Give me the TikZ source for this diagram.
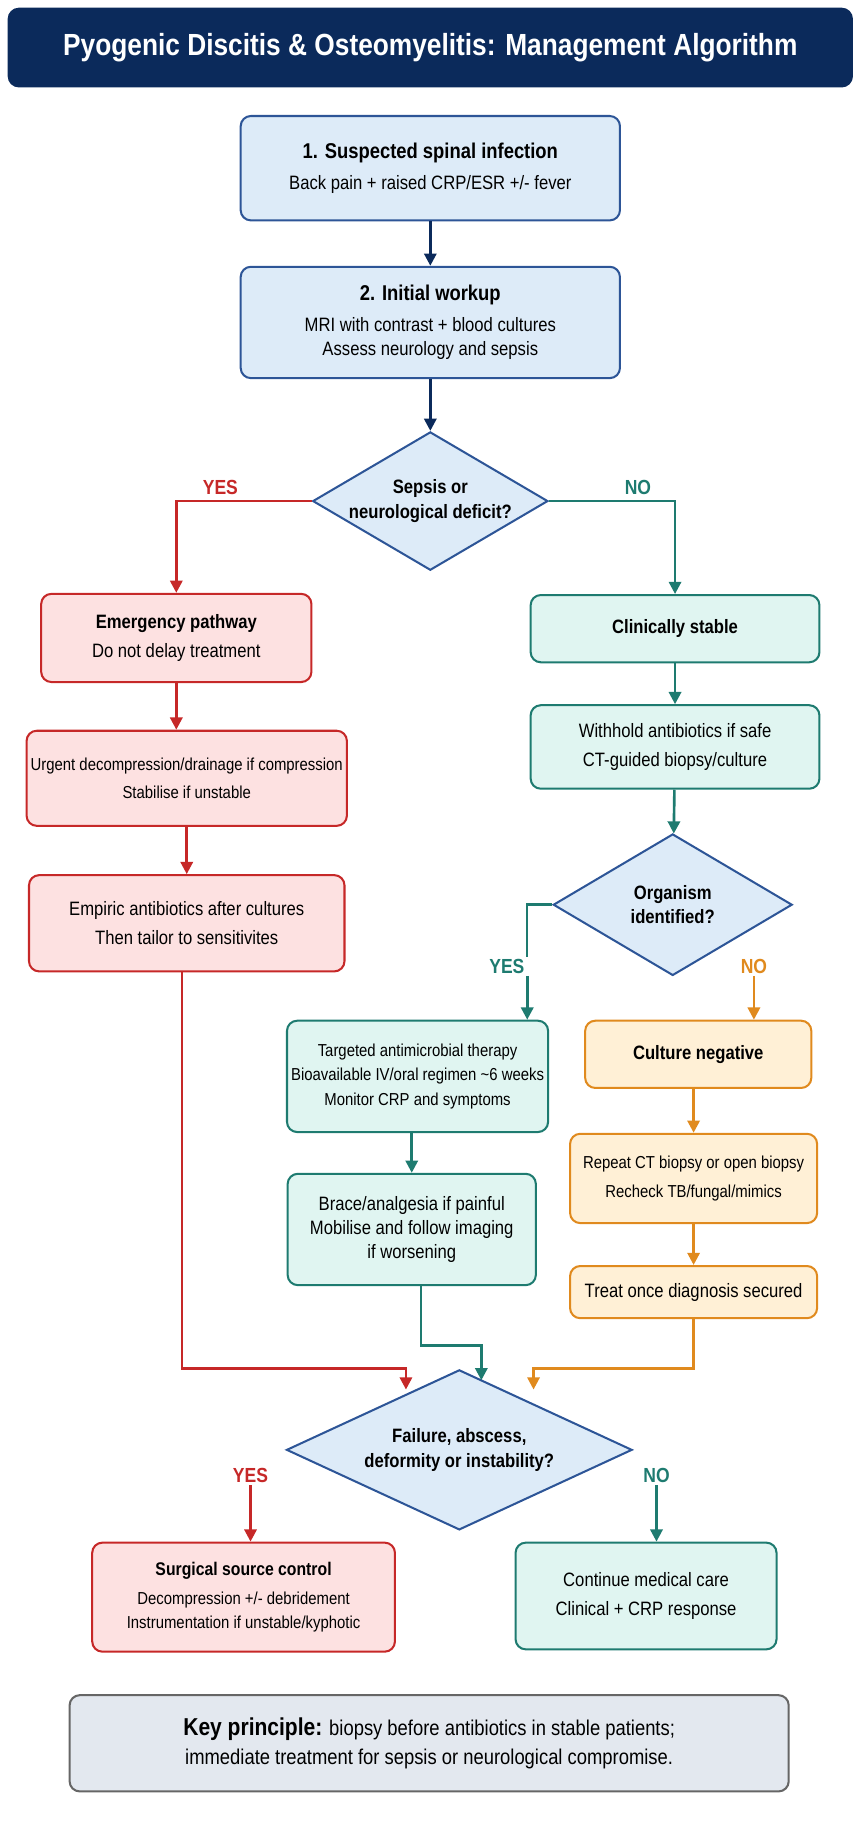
\documentclass[tikz,border=0pt]{standalone}
\usepackage{fontspec}
\setmainfont{Liberation Sans}[FakeStretch=0.86]
\usetikzlibrary{arrows.meta,shapes.geometric}
\definecolor{navy}{HTML}{0B2A5B}
\definecolor{bluebd}{HTML}{2D5597}
\definecolor{bluefl}{HTML}{DDEBF8}
\definecolor{redbd}{HTML}{C62828}
\definecolor{redfl}{HTML}{FDE1E1}
\definecolor{tealbd}{HTML}{1E7B70}
\definecolor{tealfl}{HTML}{E0F5F1}
\definecolor{orgbd}{HTML}{E08A1E}
\definecolor{orgfl}{HTML}{FFF0D6}
\definecolor{keyfl}{HTML}{E3E8EF}
\begin{document}
\begin{tikzpicture}[x=0.02cm,y=-0.02cm,font=\fontsize{9.5}{12}\selectfont,
box/.style n args={4}{draw=#1,fill=#2,line width=1pt,rounded corners=5pt,align=center,minimum width=#3*0.02cm,minimum height=#4*0.02cm,inner sep=2pt},
dia/.style n args={3}{diamond,draw=bluebd,fill=bluefl,line width=1pt,align=center,minimum width=#1*0.02cm,minimum height=#2*0.02cm,aspect=#3,inner sep=0pt,font=\fontsize{9.5}{12}\selectfont\bfseries},
arr/.style={draw=#1,line width=1.3pt,-{Triangle[length=6pt,width=6pt]}},
lnk/.style={draw=#1,line width=1.3pt},
lab/.style={text=#1,font=\fontsize{10}{12}\selectfont\bfseries,inner sep=1pt}]
\useasboundingbox (0,0) rectangle (745,1570);
% title
\node[box={navy}{navy}{727}{67},text=white,font=\fontsize{15}{18}\selectfont\bfseries] (title) at (371,41) {Pyogenic Discitis \& Osteomyelitis: Management Algorithm};
% top of the algorithm
\node[box={bluebd}{bluefl}{327}{90}] (susp) at (371,145) {{\bfseries\fontsize{10.5}{13}\selectfont 1. Suspected spinal infection}\\[3pt]Back pain + raised CRP/ESR +/- fever};
\node[box={bluebd}{bluefl}{327}{96}] (work) at (371,278) {{\bfseries\fontsize{10.5}{13}\selectfont 2. Initial workup}\\[3pt]MRI with contrast + blood cultures\\Assess neurology and sepsis};
\node[dia={200}{116}{1.7}] (sepsis) at (371,432) {Sepsis or\\neurological deficit?};
\node[lab=redbd] (yes1) at (190,420) {YES};
\node[lab=tealbd] (no1) at (550,420) {NO};
% emergency side
\node[box={redbd}{redfl}{233}{76}] (emerg) at (152,550) {{\bfseries Emergency pathway}\\[2pt]Do not delay treatment};
\node[box={redbd}{redfl}{272}{82},font=\fontsize{8.5}{12}\selectfont] (decomp) at (161,671) {Urgent decompression/drainage if compression\\[2pt]Stabilise if unstable};
\node[box={redbd}{redfl}{272}{83}] (empiric) at (161,796) {Empiric antibiotics after cultures\\[2pt]Then tailor to sensitivites};
% stable side
\node[box={tealbd}{tealfl}{249}{58},font=\fontsize{9.5}{12}\selectfont\bfseries] (stable) at (582,542) {Clinically stable};
\node[box={tealbd}{tealfl}{249}{72}] (biopsy) at (582,644) {Withhold antibiotics if safe\\[2pt]CT-guided biopsy/culture};
\node[dia={206}{122}{1.7}] (organism) at (580,780) {Organism\\identified?};
\node[lab=tealbd] (yes2) at (437,833) {YES};
\node[lab=orgbd] (no2) at (650,833) {NO};
\node[box={tealbd}{tealfl}{225}{96},font=\fontsize{8.5}{12}\selectfont] (target) at (360,928) {Targeted antimicrobial therapy\\Bioavailable IV/oral regimen \textasciitilde6 weeks\\Monitor CRP and symptoms};
\node[box={tealbd}{tealfl}{214}{96}] (brace) at (355,1060) {Brace/analgesia if painful\\Mobilise and follow imaging\\if worsening};
\node[box={orgbd}{orgfl}{195}{58},font=\fontsize{9.5}{12}\selectfont\bfseries] (culneg) at (602,909) {Culture negative};
\node[box={orgbd}{orgfl}{213}{77},font=\fontsize{8.5}{12}\selectfont] (repeat) at (598,1016) {Repeat CT biopsy or open biopsy\\[2pt]Recheck TB/fungal/mimics};
\node[box={orgbd}{orgfl}{213}{45}] (secure) at (598,1114) {Treat once diagnosis secured};
% lower decision
\node[dia={298}{138}{2.2}] (failure) at (396,1250) {Failure, abscess,\\deformity or instability?};
\node[lab=redbd] (yes3) at (216,1272) {YES};
\node[lab=tealbd] (no3) at (566,1272) {NO};
\node[box={redbd}{redfl}{261}{94},font=\fontsize{8.5}{12}\selectfont] (surg) at (210,1377) {{\bfseries\fontsize{9}{12}\selectfont Surgical source control}\\[2pt]Decompression +/- debridement\\Instrumentation if unstable/kyphotic};
\node[box={tealbd}{tealfl}{225}{92}] (cont) at (557,1376) {Continue medical care\\[2pt]Clinical + CRP response};
\node[box={black!60}{keyfl}{620}{83},font=\fontsize{10.5}{14}\selectfont] (key) at (370,1503) {{\bfseries\fontsize{12}{14}\selectfont Key principle:} biopsy before antibiotics in stable patients;\\immediate treatment for sepsis or neurological compromise.};
\coordinate (redin) at (350,1198);
\coordinate (tealin) at (415,1190);
\coordinate (orgin) at (460,1198);
% connectors
\draw[arr=navy] (susp) -- (work);
\draw[arr=navy] (work) -- (sepsis);
\draw[arr=redbd] (sepsis.west) -| (emerg.north);
\draw[arr=tealbd] (sepsis.east) -| (stable.north);
\draw[arr=redbd] (emerg) -- (emerg|-decomp.north);
\draw[arr=redbd] (decomp) -- (empiric);
\draw[arr=tealbd] (stable) -- (biopsy);
\draw[arr=tealbd] (biopsy) -- (organism);
\draw[lnk=tealbd] (organism.west) -| (yes2.north east);
\draw[arr=tealbd] ([xshift=10]yes2.south) -- ([xshift=10]yes2.south|-target.north);
\draw[arr=orgbd] (no2) -- (no2|-culneg.north);
\draw[arr=tealbd] (target.south-|brace.north) -- (brace.north);
\draw[arr=orgbd] (culneg.south-|repeat.north) -- (repeat);
\draw[arr=orgbd] (repeat) -- (secure);
\draw[arr=redbd] (empiric.south-|157,0) |- (350,1180) -- (redin);
\draw[arr=tealbd] (brace.south-|363,0) |- (415,1160) -- (tealin);
\draw[arr=orgbd] (secure.south) |- (460,1180) -- (orgin);
\draw[arr=redbd] (yes3) -- (yes3|-surg.north);
\draw[arr=tealbd] (no3) -- (no3|-cont.north);
\end{tikzpicture}
\end{document}
